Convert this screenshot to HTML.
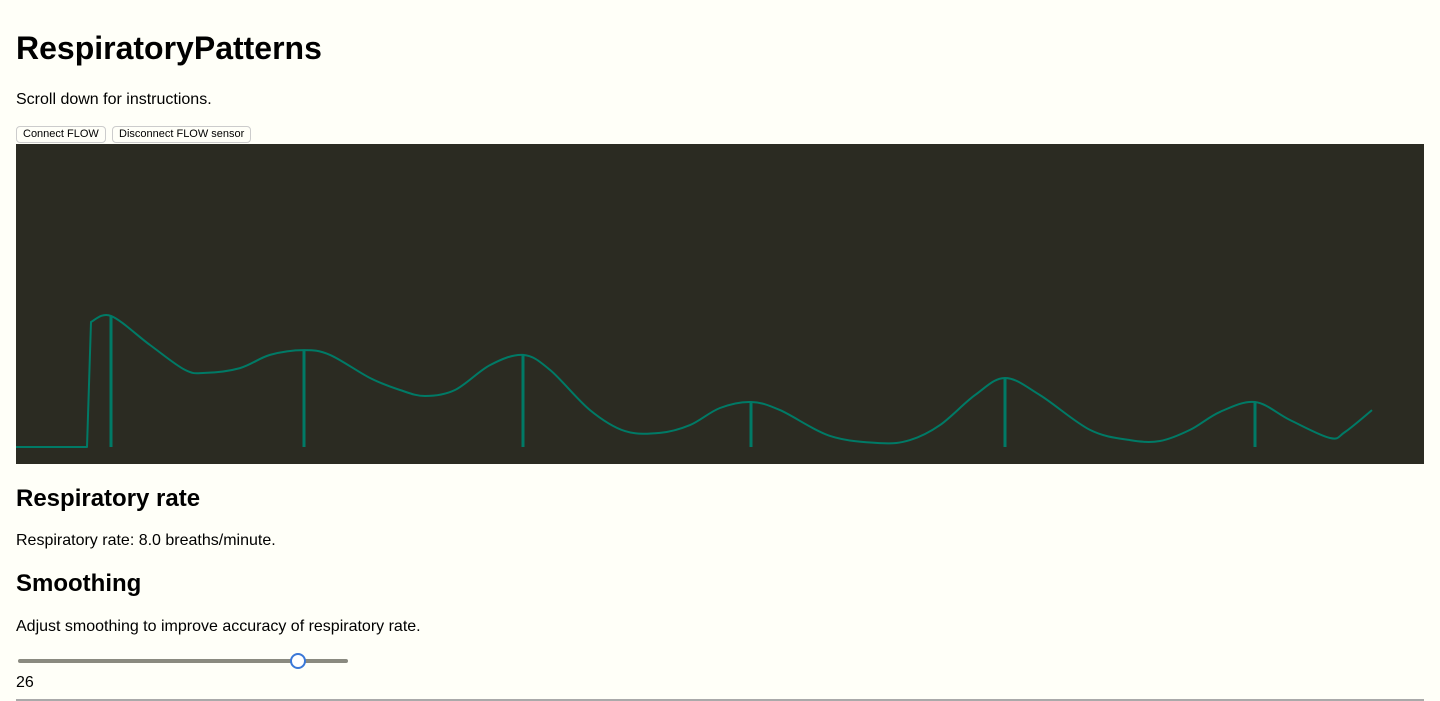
<!DOCTYPE html>
<html><head><meta charset="utf-8"><style>
body{margin:0;background:#fffff8;font-family:"Liberation Sans",Arial,sans-serif;color:#000;width:1440px;height:701px;overflow:hidden;position:relative}
h1{position:absolute;left:16px;top:30px;margin:0;font-size:32px;font-weight:bold}
h2{margin:0;font-size:24px;font-weight:bold;position:absolute;left:16px}
p{margin:0;position:absolute;left:16px;font-size:16px}
button{position:absolute;top:126px;height:17px;font-size:11px;font-family:"Liberation Sans",Arial,sans-serif;background:#fffff8;border:1px solid #ccc;border-radius:4px;padding:0 6px;line-height:15px}
#chart{position:absolute;left:16px;top:144px}
.track{position:absolute;left:18px;top:659px;width:330px;height:4px;background:#8a8a80;border-radius:2px}
.thumb{position:absolute;left:290px;top:653px;width:12px;height:12px;border:2px solid #3a78d8;border-radius:50%;background:#fff}
.rule{position:absolute;left:16px;top:699px;width:1408px;height:2px;background:#aaa}
</style></head><body>
<h1>RespiratoryPatterns</h1>
<p style="top:91px">Scroll down for instructions.</p>
<button style="left:16px">Connect FLOW</button>
<button style="left:112px">Disconnect FLOW sensor</button>
<svg id="chart" width="1408" height="320">
<rect width="1408" height="320" fill="#2b2b22"/>
<g id="marks"></g>
</svg>
<h2 style="top:485px">Respiratory rate</h2>
<p style="top:532px">Respiratory rate: 8.0 breaths/minute.</p>
<h2 style="top:570px">Smoothing</h2>
<p style="top:618px">Adjust smoothing to improve accuracy of respiratory rate.</p>
<div class="track"></div>
<div class="thumb"></div>
<p style="top:674px">26</p>
<div class="rule"></div>
<script>
const times=[0,71,75,95,134,169,189,224,254,288,314,354,384,409,439,474,507,534,574,609,644,674,704,735,764,814,864,894,924,959,989,1024,1074,1114,1144,1174,1204,1239,1274,1314,1329,1356];
const flow=[0,0,41.7,43.7,34,25.7,24.7,26.3,30.7,32.3,30.7,23,19,17,19,27.3,30.7,25.7,12.3,5.3,4.7,7.3,13,15,12.3,3.7,1.3,2.3,7.3,17.3,23,17.3,5.7,2.3,2,5.7,11.7,15,9,3,5,12.3];
const peakTimes=[95,288,507,735,989,1239];
const peakValues=[43.7,32.3,30.7,15,23,15];
const W=1408,base=303;
const xs=t=>t*(W/1408);
const ys=v=>base-v*3;
const ns="http://www.w3.org/2000/svg";
const g=document.getElementById('marks');
const P=times.map((t,i)=>[xs(t),ys(flow[i])]);
let d='M'+P[0][0]+','+P[0][1]+'L'+P[1][0]+','+P[1][1]+'L'+P[2][0]+','+P[2][1];
for(let i=2;i<P.length-1;i++){
 const p0=P[Math.max(i-1,2)],p1=P[i],p2=P[i+1],p3=P[Math.min(i+2,P.length-1)];
 const c1=[p1[0]+(p2[0]-p0[0])/6,p1[1]+(p2[1]-p0[1])/6];
 const c2=[p2[0]-(p3[0]-p1[0])/6,p2[1]-(p3[1]-p1[1])/6];
 d+='C'+c1[0]+','+c1[1]+' '+c2[0]+','+c2[1]+' '+p2[0]+','+p2[1];
}
const path=document.createElementNS(ns,'path');
path.setAttribute('d',d);path.setAttribute('fill','none');path.setAttribute('stroke','#007a66');path.setAttribute('stroke-width','2');path.setAttribute('stroke-linejoin','round');


g.appendChild(path);
peakTimes.forEach((t,i)=>{
 const l=document.createElementNS(ns,'line');
 l.setAttribute('x1',xs(t));l.setAttribute('x2',xs(t));l.setAttribute('y1',ys(peakValues[i]));l.setAttribute('y2',ys(0));
 l.setAttribute('stroke','#007a66');l.setAttribute('stroke-width','3');
 
 
 g.appendChild(l);
});
</script>
</body></html>
